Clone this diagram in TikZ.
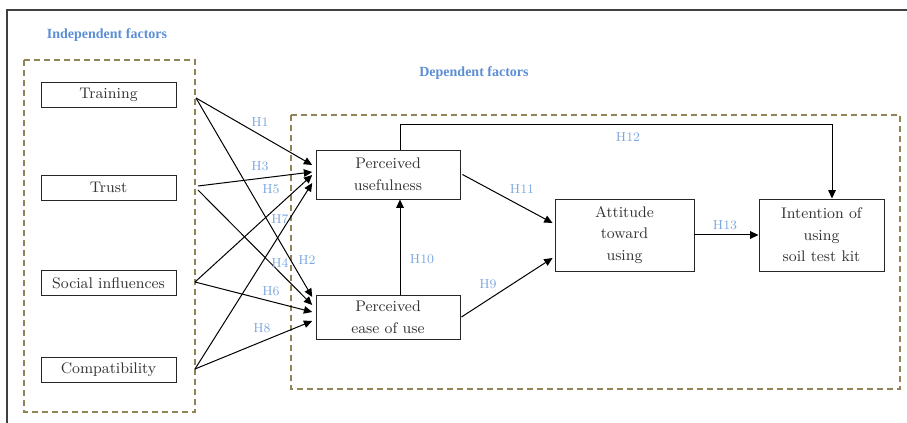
\documentclass[tikz,border=0pt]{standalone}
\usepackage{fontspec}
\usepackage{xcolor}
\usepackage{tikz}
\usetikzlibrary{arrows.meta}
\newfontfamily\headfont{Liberation Serif}
\definecolor{headblue}{HTML}{5B8ED6}
\definecolor{hypblue}{HTML}{7BA7DF}
\definecolor{groupbrown}{HTML}{8E8456}

\begin{document}
\begin{tikzpicture}[x=0.6pt,y=-0.6pt,
		factor/.style={draw=black!85,line width=0.55pt,text=black!80,minimum width=81pt,minimum height=15pt,inner sep=0pt,font=\fontsize{9.2}{11}\selectfont},
		construct/.style={draw=black!85,line width=0.55pt,text=black!80,align=center,inner sep=0pt,font=\fontsize{9.2}{13}\selectfont},
		hyp/.style={text=hypblue,inner sep=1pt,font=\fontsize{7.8}{9}\selectfont},
		link/.style={draw=black,line width=0.6pt,-{Triangle[length=5pt,width=4.5pt]}},
		group/.style={draw=groupbrown,line width=1.2pt,dash pattern=on 3.6pt off 2.4pt},
		heading/.style={text=headblue,font=\headfont\bfseries\fontsize{8.4}{10}\selectfont}]
				\useasboundingbox (0,0) rectangle (907,423);
				\draw[black!75,line width=0.8pt] (907,10) -- (7,10) -- (7,423);

				% groups
				\draw[group] (24,60) rectangle (195,412);
				\draw[group] (291,115) rectangle (900,389);
				\node[heading] (indep) at (107,35) {Independent factors};
				\node[heading] (dep) at (474,73) {Dependent factors};

				\node[factor] (train) at (108.5,94.5) {Training};
				\node[factor] (trust) at (108.5,187.5) {Trust};
				\node[factor] (social) at (108.5,283) {Social influences};
				\node[factor] (compat) at (108.5,370) {Compatibility};

				\node[construct,minimum width=86.4pt,minimum height=29.4pt] (pu) at (388,174.5) {Perceived\\usefulness};
				\node[construct,minimum width=86.4pt,minimum height=26.4pt] (peou) at (388,317) {Perceived\\ease of use};
				\node[construct,minimum width=83.4pt,minimum height=43.2pt] (att) at (624.5,235) {Attitude\\toward\\using};
				\node[construct,minimum width=75pt,minimum height=43.2pt] (intent) at (821.5,235) {Intention of\\using\\soil test kit};

				\coordinate (trainS) at (196,98);
				\coordinate (trustA) at (198,186);
				\coordinate (trustB) at (198,190);
				\coordinate (socialS) at (195,282);
				\coordinate (compatS) at (195,369);

				% independent -> PU / PEOU
				\draw[link] (trainS) -- ([xshift=-2pt,yshift=5.7pt]pu.west);
				\draw[link] (trainS) -- ([xshift=-2pt,yshift=12pt]peou.west);
				\draw[link] (trustA) -- ([xshift=-2pt,yshift=1.5pt]pu.west);
				\draw[link] (trustB) -- ([xshift=-2pt,yshift=7.2pt]peou.west);
				\draw[link] (socialS) -- ([xshift=-2pt,yshift=-0.3pt]pu.west);
				\draw[link] (socialS) -- ([xshift=-2pt,yshift=3pt]peou.west);
				\draw[link] (compatS) -- ([xshift=-2pt,yshift=-5.1pt]pu.west);
				\draw[link] (compatS) -- ([xshift=-2pt,yshift=-2.4pt]peou.west);

				\draw[link] ([xshift=1.2pt]pu.east) -- ([xshift=-1.2pt,yshift=7.2pt]att.west);
				\draw[link] ([xshift=0.6pt]peou.east) -- ([xshift=-1.2pt,yshift=-13.8pt]att.west);
				\draw[link] ([xshift=7.2pt]peou.north) -- ([xshift=7.2pt]pu.south);
				\draw[link] ([xshift=7.2pt]pu.north) -- ++(0,-25) -| ([xshift=6.3pt]intent.north);
				\draw[link] (att.east) -- (intent.west);

				\node[hyp] (h1) at (260,122) {H1};
				\node[hyp] (h2) at (307,260) {H2};
				\node[hyp] (h3) at (260,166) {H3};
				\node[hyp] (h4) at (280,263) {H4};
				\node[hyp] (h5) at (271,189) {H5};
				\node[hyp] (h6) at (271,291) {H6};
				\node[hyp] (h7) at (280,219) {H7};
				\node[hyp] (h8) at (262,328) {H8};
				\node[hyp] (h9) at (488,284) {H9};
				\node[hyp] (h10) at (422,259) {H10};
				\node[hyp] (h11) at (522,189) {H11};
				\node[hyp] (h12) at (628,137) {H12};
				\node[hyp] (h13) at (725,225) {H13};
			\end{tikzpicture}
\end{document}
